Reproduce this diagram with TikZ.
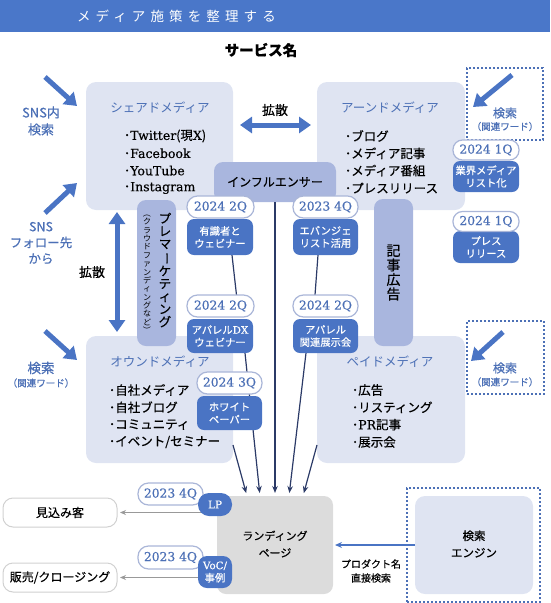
\documentclass[tikz,border=0pt]{standalone}
\usepackage{fontspec}
\usepackage{graphicx}
\setmainfont{Noto Sans CJK JP}[FakeBold=0.5]
\newfontfamily\jplight{Noto Sans CJK JP}
\newfontfamily\srf{DejaVu Serif}[FakeBold=0.3]
\usetikzlibrary{arrows.meta,calc}
\definecolor{banner}{HTML}{4A77C9}
\definecolor{lightbg}{HTML}{DFE4F2}
\definecolor{midbg}{HTML}{A9B6DE}
\definecolor{dblue}{HTML}{4A74C4}
\definecolor{tblue}{HTML}{4C70B6}
\definecolor{navy}{HTML}{2B3A67}
\definecolor{pillline}{HTML}{AAB6D8}
\definecolor{lgray}{HTML}{DCDCDC}
\definecolor{agray}{HTML}{999999}
\newcommand{\fszl}[2]{\fontsize{#1}{#2}\selectfont}
\newcommand{\vrot}[1]{\rotatebox[origin=c]{-90}{#1}}
\pgfdeclarelayer{back}
\pgfdeclarelayer{links}
\pgfsetlayers{back,links,main}
\begin{document}
\begin{tikzpicture}[x=1pt,y=-1pt,
  every node/.style={inner sep=0pt, outer sep=0pt},
  mbox/.style={fill=lightbg, rounded corners=10pt},
  midbox/.style={fill=midbg, rounded corners=9pt},
  pillnode/.style={draw=pillline, line width=1.2pt, fill=white, rounded corners=10.5pt, text=tblue, font=\srf\fszl{12.3}{12}, minimum height=22pt},
  bbox/.style={fill=dblue, rounded corners=7pt, text=white, align=center, font=\fszl{10.3}{12.5}},
  mtitle/.style={text=tblue, font=\jplight\fszl{12.5}{14}},
  listitem/.style={anchor=west, font=\fszl{12.5}{14}},
  lbl/.style={text=tblue, align=center},
  fat/.style={draw=dblue, line width=5pt, -{Triangle[length=12pt,width=16pt]}},
  fattwo/.style={draw=dblue, line width=5pt, {Triangle[length=12pt,width=16pt]}-{Triangle[length=12pt,width=16pt]}},
  navlink/.style={draw=navy, line width=1.2pt},
  navarr/.style={navlink, -{Stealth[length=7pt,width=5.5pt]}, shorten >=3pt},
  garr/.style={draw=agray, line width=1.3pt, -{Stealth[length=6pt,width=5pt]}, shorten >=3pt},
  dotbox/.style={draw=tblue, line width=1.3pt, dash pattern=on 2pt off 2pt},
  wbox/.style={draw=black!18, line width=1pt, fill=white, rounded corners=10pt, font=\fszl{12}{14}},
]
\useasboundingbox (0,0) rectangle (550,603);

% banner
\node[fill=banner, minimum width=550pt, minimum height=32pt, anchor=north west] (banner) at (0,0) {};
\node[anchor=west, text=white, font=\jplight\fszl{13.5}{14}\addfontfeatures{LetterSpace=38}] (btitle) at (77,16) {メディア施策を整理する};
\node[font=\bfseries\fszl{14.5}{16}] (svc) at (261,50) {サービス名};

% media boxes
\begin{pgfonlayer}{back}
\node[mbox, minimum width=147pt, minimum height=128pt] (shared) at (159.5,146) {};
\node[mbox, minimum width=148pt, minimum height=128pt] (earned) at (391,146) {};
\node[mbox, minimum width=147pt, minimum height=127pt] (owned) at (159.5,399.5) {};
\node[mbox, minimum width=148pt, minimum height=127pt] (paid) at (391,399.5) {};
\node[midbox, minimum width=122pt, minimum height=40pt] (infl) at (275,182) {};
\node[midbox, minimum width=39pt, minimum height=146pt] (prema) at (156.5,273) {};
\node[midbox, minimum width=39pt, minimum height=147pt, align=center, font=\fszl{14}{14.5}] (kiji) at (393.5,272.5) {記\\事\\広\\告};
\node[fill=lgray, rounded corners=9pt, minimum width=116pt, minimum height=98pt] (land) at (275,545) {};
\node[dotbox, minimum width=133pt, minimum height=114pt] (sout) at (473.5,545) {};
\node[mbox, minimum width=118pt, minimum height=98pt] (seng) at (474,545) {};
\end{pgfonlayer}

\node[font=\fszl{12}{14}] (infltxt) at (275,182) {インフルエンサー};
\node[font=\fszl{11}{17}, align=center] (landtxt) at (275,544) {ランディング\\ページ};
\node[font=\fszl{11.5}{17}, align=center] (sengtxt) at (474,544) {検索\\エンジン};

\node[mtitle] (shT) at (160,108) {シェアドメディア};
\node[mtitle] (eaT) at (390,108) {アーンドメディア};
\node[mtitle] (owT) at (160,362) {オウンドメディア};
\node[mtitle] (paT) at (390,362) {ペイドメディア};

\node[listitem] (sh1) at (124,136) {･{\srf Twitter}(現{\srf X})};
\node[listitem] (sh2) at (124,153.3) {･{\srf Facebook}};
\node[listitem] (sh3) at (124,170.6) {･{\srf YouTube}};
\node[listitem] (sh4) at (124,188) {･{\srf Instagram}};
\node[listitem] (ea1) at (345,136) {･ブログ};
\node[listitem] (ea2) at (345,153.3) {･メディア記事};
\node[listitem] (ea3) at (345,170.6) {･メディア番組};
\node[listitem] (ea4) at (345,188) {･プレスリリース};
\node[listitem] (ow1) at (109,390) {･自社メディア};
\node[listitem] (ow2) at (109,407.3) {･自社ブログ};
\node[listitem] (ow3) at (109,424.6) {･コミュニティ};
\node[listitem] (ow4) at (109,442) {･イベント/セミナー};
\node[listitem] (pa1) at (352,390) {･広告};
\node[listitem] (pa2) at (352,407.3) {･リスティング};
\node[listitem] (pa3) at (352,424.6) {･{\srf PR}記事};
\node[listitem] (pa4) at (352,442) {･展示会};

% vertical text in pre-marketing box
\node[font=\fszl{12.5}{12.7}, align=center] (pmain) at (165,270) {プ\\レ\\マ\\\vrot{ー}\\ケ\\テ\\ィ\\ン\\グ};
\node[font=\jplight\fszl{8}{8.35}, align=center] (psub) at (147,272) {\vrot{（}\\ク\\ラ\\ウ\\ド\\フ\\ァ\\ン\\デ\\ィ\\ン\\グ\\な\\ど\\\vrot{）}};

% diffusion arrows
\node[font=\fszl{13}{14}] (kakusan1) at (275,110) {拡散};
\node[font=\fszl{13}{14}] (kakusan2) at (92,272) {拡散};
\coordinate (h1) at (240,125);
\coordinate (h2) at (311,125);
\coordinate (v1) at (117,212);
\coordinate (v2) at (117,332);
\draw[fattwo] (h1) -- (h2);
\draw[fattwo] (v1) -- (v2);

% side labels and arrows
\node[lbl, font=\fszl{13}{17}] (snsin) at (41,121) {SNS内\\検索};
\node[lbl, font=\fszl{12.5}{16}] (snsf) at (41,243) {SNS\\フォロー先\\から};
\node[lbl, font=\fszl{13.5}{15}] (kl1) at (41,368) {検索};
\node[lbl, font=\fszl{9.5}{11}] (kl2) at (41,383) {（関連ワード）};
\node[dotbox, minimum width=76pt, minimum height=72pt] (dbtop) at (505,104) {};
\node[lbl, font=\fszl{12}{14}] (kr1) at (505,113) {検索};
\node[lbl, font=\fszl{9.5}{11}] (kr2) at (505,126.5) {（関連ワード）};
\node[dotbox, minimum width=77pt, minimum height=73pt] (dbmid) at (505.5,357.5) {};
\node[lbl, font=\fszl{12}{14}] (km1) at (505,368) {検索};
\node[lbl, font=\fszl{9.5}{11}] (km2) at (505,382) {（関連ワード）};

\coordinate (a1s) at (45,77);   \coordinate (a1e) at (77,106);
\coordinate (a2s) at (45,213);  \coordinate (a2e) at (77,183);
\coordinate (a3s) at (45,331);  \coordinate (a3e) at (77,360);
\coordinate (a4s) at (512,75);  \coordinate (a4e) at (473,107);
\coordinate (a5s) at (503,332); \coordinate (a5e) at (471,361);
\draw[fat] (a1s) -- (a1e);
\draw[fat] (a2s) -- (a2e);
\draw[fat] (a3s) -- (a3e);
\draw[fat] (a4s) -- (a4e);
\draw[fat] (a5s) -- (a5e);

% initiative boxes and pills
\node[bbox, minimum width=66pt, minimum height=36pt] (b1) at (220,237) {有識者と\\ウェビナー};
\node[pillnode, minimum width=67pt] (p1) at (220.5,207) {2024 2Q};
\node[bbox, minimum width=65pt, minimum height=36pt] (b2) at (325.5,237) {エバンジェ\\リスト活用};
\node[pillnode, minimum width=65pt] (p2) at (325.5,207) {2023 4Q};
\node[bbox, minimum width=66pt, minimum height=34pt] (b3) at (220,336) {アパレル{\srf DX}\\ウェビナー};
\node[pillnode, minimum width=67pt] (p3) at (220.5,306) {2024 2Q};
\node[bbox, minimum width=65pt, minimum height=34pt] (b4) at (325.5,336) {アパレル\\関連展示会};
\node[pillnode, minimum width=65pt] (p4) at (325.5,306) {2024 2Q};
\node[bbox, minimum width=65pt, minimum height=34pt] (b5) at (229.5,413) {ホワイト\\ペーパー};
\node[pillnode, minimum width=65pt] (p5) at (229.5,383) {2024 3Q};
\node[bbox, minimum width=66pt, minimum height=31pt] (b6) at (486,176.5) {業界メディア\\リスト化};
\node[pillnode, minimum width=66pt, minimum height=20pt, rounded corners=9.5pt] (p6) at (486,150) {2024 1Q};
\node[bbox, minimum width=66pt, minimum height=32pt] (b7) at (486,247) {プレス\\リリース};
\node[pillnode, minimum width=66pt, minimum height=20pt, rounded corners=9.5pt] (p7) at (486,221.5) {2024 1Q};
\node[pillnode, minimum width=65pt] (p8) at (170.5,494) {2023 4Q};
\node[bbox, minimum width=34pt, minimum height=23pt, rounded corners=11pt, font=\srf\fszl{10.5}{12}] (b8) at (215,504.5) {LP};
\node[pillnode, minimum width=65pt, minimum height=23pt] (p9) at (170.5,557.5) {2023 4Q};
\node[bbox, minimum width=34pt, minimum height=32pt, rounded corners=9pt] (b9) at (215,572) {{\srf VoC/}\\事例};

% outcome boxes
\node[wbox, minimum width=114pt, minimum height=29pt] (mikomi) at (60,512.5) {見込み客};
\node[wbox, minimum width=114pt, minimum height=29pt] (hanbai) at (60,577.5) {販売/クロージング};
\node[font=\fszl{10}{14}, align=center] (direct) at (371,571) {プロダクト名\\直接検索};

% connectors
\begin{pgfonlayer}{links}
\draw[navlink] ($(b1.south)+(12,0)$) -- ($(p3.north)+(16,0)$);
\draw[navlink] ($(b2.south)+(-7.5,0)$) -- ($(p4.north)+(-10.5,0)$);
\draw[navarr] (infl.south) -- (land.north);
\draw[navarr] ($(owned.east)+(0,45.5)$) -- ($(land.north)+(-28,0)$);
\draw[navarr] ($(b3.south)+(25,0)$) -- ($(land.north)+(-15,0)$);
\draw[navarr] ($(b4.south)+(-19.5,0)$) -- ($(land.north)+(14,0)$);
\draw[navarr] ($(paid.west)+(0,45.5)$) -- ($(land.north)+(28,0)$);
\draw[garr] (land.west |- mikomi.east) -- (mikomi.east);
\draw[garr] (land.west |- hanbai.east) -- (hanbai.east);
\draw[draw=dblue, line width=1.5pt, -{Stealth[length=7pt,width=6pt]}, shorten >=2pt] (seng.west) -- (land.east);
\end{pgfonlayer}
\end{tikzpicture}
\end{document}
